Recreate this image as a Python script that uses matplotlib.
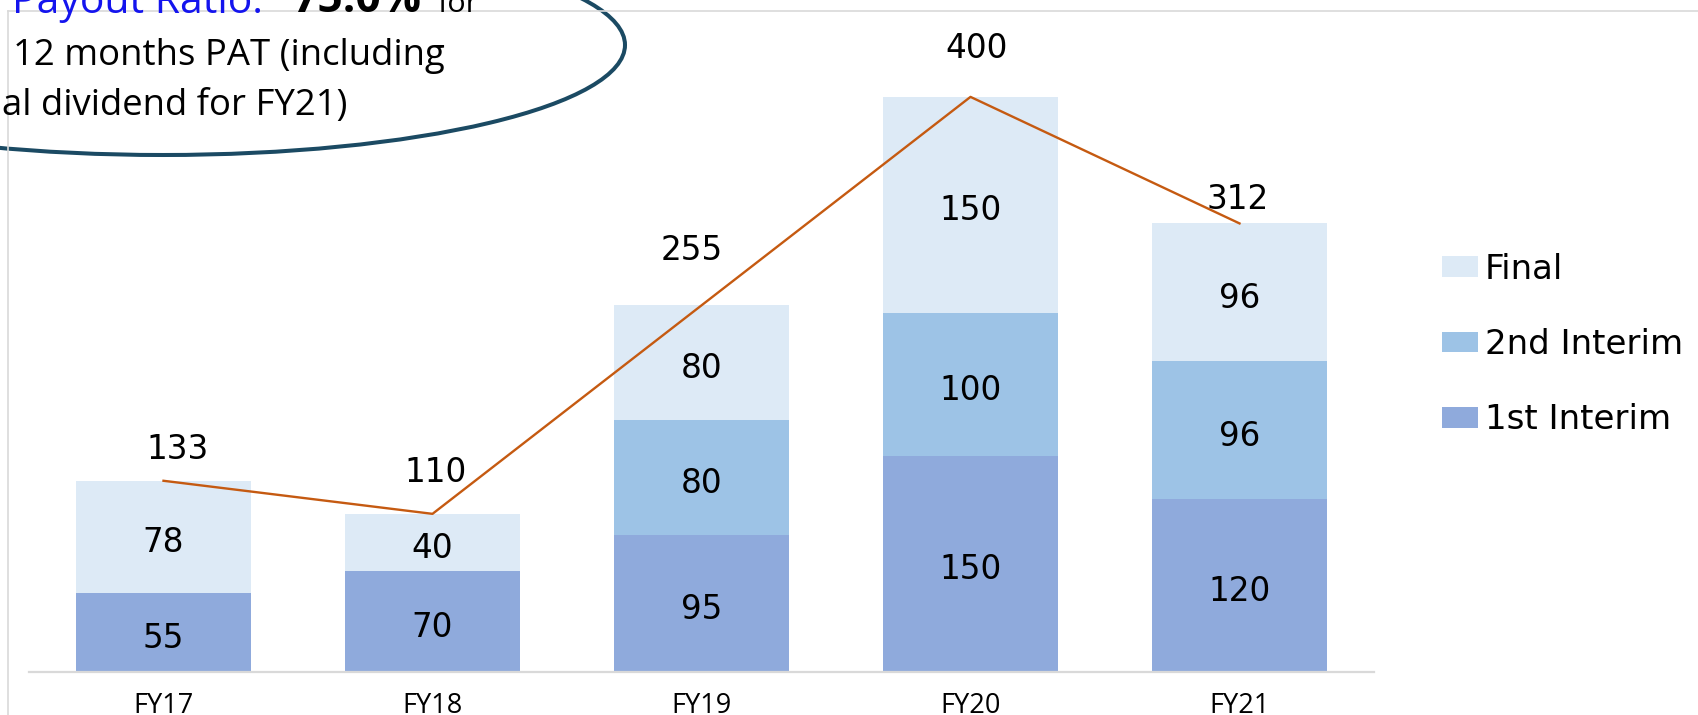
import matplotlib
matplotlib.use("Agg")
import matplotlib.pyplot as plt
from matplotlib.patches import Ellipse
from matplotlib.lines import Line2D
from matplotlib.transforms import IdentityTransform

# ---- data ----
years = ["FY17", "FY18", "FY19", "FY20", "FY21"]
first_interim = [55, 70, 95, 150, 120]
second_interim = [0, 0, 80, 100, 96]
final_div = [78, 40, 80, 150, 96]
total_div = [133, 110, 255, 400, 312]
series_names = ["1st Interim", "2nd Interim", "Final"]

# ---- style ----
W, H = 1699, 715
c_first = "#8FAADC"
c_second = "#9DC3E6"
c_final = "#DDEAF6"
c_line = "#C55A11"
c_grid = "#D9D9D9"
num_fs = 23.5
total_dy = [23.2, 30.6, 40.0, 35.6, 18.4]
total_dx = [0.054, 0.01, -0.038, 0.022, -0.007]

fig = plt.figure(figsize=(W / 100, H / 100), dpi=100)
ident = IdentityTransform()

# chart-area border (cropped)
fig.add_artist(Line2D([8 / W, 1], [1 - 10.7 / H] * 2, transform=fig.transFigure,
                      color=c_grid, lw=1.2))
fig.add_artist(Line2D([8 / W] * 2, [0, 1 - 10.7 / H], transform=fig.transFigure,
                      color=c_grid, lw=1.2))

ax = fig.add_axes([29 / W, 43 / H, 1345 / W, 647 / H])
ax.set_xlim(-0.5, 4.5)
ax.set_ylim(0, 450)
x = list(range(len(years)))
bw = 0.647

bottom2 = first_interim
bottom3 = [a + b for a, b in zip(first_interim, second_interim)]
b1 = ax.bar(x, first_interim, bw, color=c_first, label=series_names[0])
b2 = ax.bar(x, second_interim, bw, bottom=bottom2, color=c_second, label=series_names[1])
b3 = ax.bar(x, final_div, bw, bottom=bottom3, color=c_final, label=series_names[2])
ax.plot(x, total_div, color=c_line, lw=1.7)

cap = 0.729 * num_fs


def centered_num(xc, yc, s, extra=0.0):
    ax.annotate(s, (xc, yc), xytext=(0, -cap / 2 - extra), textcoords="offset points",
                ha="center", va="baseline", fontsize=num_fs, family="DejaVu Sans",
                color="black", annotation_clip=False)


for i in x:
    segs = [(0, first_interim[i]), (bottom2[i], second_interim[i]), (bottom3[i], final_div[i])]
    for b, v in segs:
        if v > 0:
            centered_num(i, b + v / 2, str(v), extra=2.3)
    centered_num(i + total_dx[i], total_div[i] + total_dy[i], str(total_div[i]))

for s in ["top", "left", "right"]:
    ax.spines[s].set_visible(False)
ax.spines["bottom"].set_color(c_grid)
ax.spines["bottom"].set_linewidth(1.6)
ax.set_yticks([])
ax.set_xticks(x)
ax.set_xticklabels(years, family="Open Sans", fontsize=19.5)
ax.tick_params(axis="x", length=0, pad=14.5)

leg = ax.legend(handles=[b3, b2, b1], labels=[series_names[2], series_names[1], series_names[0]],
                loc="center left", bbox_to_anchor=(1442 / W, 1 - 344.5 / H),
                bbox_transform=fig.transFigure, frameon=False, borderpad=0, borderaxespad=0,
                prop={"family": "DejaVu Sans", "size": 24.5}, handlelength=1.06,
                handleheight=0.56, handletextpad=0.2, labelspacing=1.24)

# ellipse callout
fig.add_artist(Ellipse((163, H - 45), 924, 220, transform=ident, fill=False,
                       edgecolor="#1B4A63", lw=2.9))

r = fig.canvas.get_renderer()


def fitted_text(xp, base, s, target_w, **kw):
    t = fig.text(xp, H - base, s, transform=ident, fontsize=30, family="Open Sans",
                 va="baseline", ha="left", **kw)
    t.set_fontsize(30 * target_w / t.get_window_extent(r).width)
    return t


t2 = fitted_text(13, 65, "12 months PAT (including", 432)
fs = t2.get_fontsize()
fig.text(2, H - 115, "al dividend for FY21)", transform=ident, fontsize=fs,
         family="Open Sans", va="baseline", ha="left")
fitted_text(12, 13, "Payout Ratio:", 251, color="#1414EE")
fitted_text(293, 12, "75.0%", 129, weight="bold")
fitted_text(437, 12, "for", 41)

fig.savefig("out.png", dpi=100)
